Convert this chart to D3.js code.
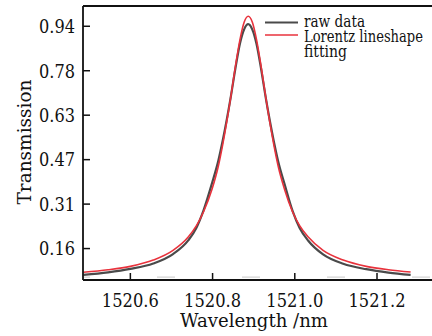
<!DOCTYPE html>
<html>
<head>
<meta charset="utf-8">
<script src="https://cdn.jsdelivr.net/npm/d3@7"></script>
<style>
  html, body { margin: 0; padding: 0; background: #ffffff; }
  svg { display: block; }
  svg text { font-family: "DejaVu Serif", "Liberation Serif", serif; fill: #111; }
</style>
</head>
<body>
<svg id="chart" width="432" height="336"></svg>
<script>
// ---- data ----
const wavelength = [1520.487, 1520.547, 1520.601, 1520.657, 1520.705, 1520.742, 1520.762, 1520.779,
  1520.800, 1520.815, 1520.826, 1520.845, 1520.857, 1520.868, 1520.878, 1520.888,
  1520.898, 1520.908, 1520.919, 1520.931, 1520.950, 1520.961, 1520.976, 1520.996,
  1521.013, 1521.034, 1521.070, 1521.119, 1521.175, 1521.229, 1521.283];
const rawData = [0.062, 0.071, 0.083, 0.102, 0.135, 0.183, 0.228, 0.288,
  0.385, 0.462, 0.535, 0.683, 0.790, 0.876, 0.925, 0.943,
  0.924, 0.874, 0.788, 0.681, 0.533, 0.460, 0.383, 0.286,
  0.227, 0.182, 0.134, 0.101, 0.082, 0.070, 0.062];
const lorentzFit = [0.071, 0.080, 0.092, 0.114, 0.148, 0.195, 0.235, 0.283,
  0.364, 0.443, 0.521, 0.682, 0.797, 0.890, 0.950, 0.971,
  0.950, 0.890, 0.797, 0.682, 0.521, 0.443, 0.364, 0.283,
  0.235, 0.195, 0.148, 0.114, 0.092, 0.080, 0.072];
const xTicks = [1520.6, 1520.8, 1521.0, 1521.2];
const xTickLabels = ["1520.6", "1520.8", "1521.0", "1521.2"];
const yTicks = [0.15625, 0.3125, 0.46875, 0.625, 0.78125, 0.9375];
const yTickLabels = ["0.16", "0.31", "0.47", "0.63", "0.78", "0.94"];
const xDomain = [1520.486, 1521.335];
const yDomain = [0.044, 1.007];
const faintLevel = 0.054;
const seriesNames = ["raw data", "Lorentz lineshape", "fitting"];

// ---- layout ----
const L = 83, R = 432, T = 6, B = 280;
const svg = d3.select("#chart");
const x = d3.scaleLinear().domain(xDomain).range([L, R]);
const y = d3.scaleLinear().domain(yDomain).range([B, T]);

svg.append("defs").append("clipPath").attr("id", "plotclip")
  .append("rect").attr("x", L).attr("y", T).attr("width", R - L).attr("height", B - T);

// faint dashed line near the bottom
svg.append("line")
  .attr("x1", L).attr("x2", R).attr("y1", y(faintLevel)).attr("y2", y(faintLevel))
  .attr("stroke", "#d4d4d4").attr("stroke-width", 1.2)
  .attr("stroke-dasharray", "18,67").attr("stroke-dashoffset", 11);

// curves
const pts = (vals) => wavelength.map((w, i) => [w, vals[i]]);
const line = d3.line().x(d => x(d[0])).y(d => y(d[1])).curve(d3.curveMonotoneX);
const g = svg.append("g").attr("clip-path", "url(#plotclip)");
g.append("path").datum(pts(rawData)).attr("d", line)
  .attr("fill", "none").attr("stroke", "#4a4a4a").attr("stroke-width", 2.2);
g.append("path").datum(pts(lorentzFit)).attr("d", line)
  .attr("fill", "none").attr("stroke", "#e8323c").attr("stroke-width", 1.6);

// axes
const yAxis = d3.axisLeft(y).tickValues(yTicks).tickSize(-7).tickPadding(8)
  .tickFormat((d, i) => yTickLabels[i]);
const gy = svg.append("g").attr("transform", `translate(${L},0)`).call(yAxis);
gy.attr("font-family", null);
gy.select(".domain").remove();
gy.selectAll(".tick line").attr("stroke", "#111").attr("stroke-width", 1.5);
gy.selectAll(".tick text").attr("font-size", 19).attr("fill", "#111")
  .attr("dy", "0.36em").attr("textLength", 36).attr("lengthAdjust", "spacingAndGlyphs");

const xAxis = d3.axisBottom(x).tickValues(xTicks).tickSize(-7).tickPadding(12)
  .tickFormat((d, i) => xTickLabels[i]);
const gx = svg.append("g").attr("transform", `translate(0,${B})`).call(xAxis);
gx.attr("font-family", null);
gx.select(".domain").remove();
gx.selectAll(".tick line").attr("stroke", "#111").attr("stroke-width", 1.5);
gx.selectAll(".tick text").attr("font-size", 19).attr("fill", "#111")
  .attr("y", 27).attr("dy", null)
  .attr("textLength", 57).attr("lengthAdjust", "spacingAndGlyphs");

// frame lines: left, top, bottom
svg.append("line").attr("x1", L).attr("x2", L).attr("y1", T).attr("y2", B)
  .attr("stroke", "#111").attr("stroke-width", 1.8);
svg.append("line").attr("x1", L).attr("x2", R).attr("y1", T).attr("y2", T)
  .attr("stroke", "#111").attr("stroke-width", 1.8);
svg.append("line").attr("x1", L).attr("x2", R).attr("y1", B).attr("y2", B)
  .attr("stroke", "#111").attr("stroke-width", 1.8);

// axis titles
svg.append("text").attr("x", 254).attr("y", 327).attr("text-anchor", "middle")
  .attr("font-size", 18.5).attr("textLength", 148).attr("lengthAdjust", "spacingAndGlyphs")
  .text("Wavelength /nm");
svg.append("text").attr("transform", "translate(31,142) rotate(-90)").attr("text-anchor", "middle")
  .attr("font-size", 18.5).attr("textLength", 125).attr("lengthAdjust", "spacingAndGlyphs")
  .text("Transmission");

// legend
const lg = svg.append("g");
lg.append("line").attr("x1", 265).attr("x2", 298).attr("y1", 22.5).attr("y2", 22.5)
  .attr("stroke", "#4a4a4a").attr("stroke-width", 2.2);
lg.append("line").attr("x1", 265).attr("x2", 298).attr("y1", 35).attr("y2", 35)
  .attr("stroke", "#e8323c").attr("stroke-width", 1.6);
const legendWidths = [61, 119, 43];
const legendBase = [27, 42, 57];
seriesNames.forEach((s, i) => {
  lg.append("text").attr("x", 304).attr("y", legendBase[i]).attr("font-size", 16)
    .attr("textLength", legendWidths[i]).attr("lengthAdjust", "spacingAndGlyphs").text(s);
});
</script>
</body>
</html>
